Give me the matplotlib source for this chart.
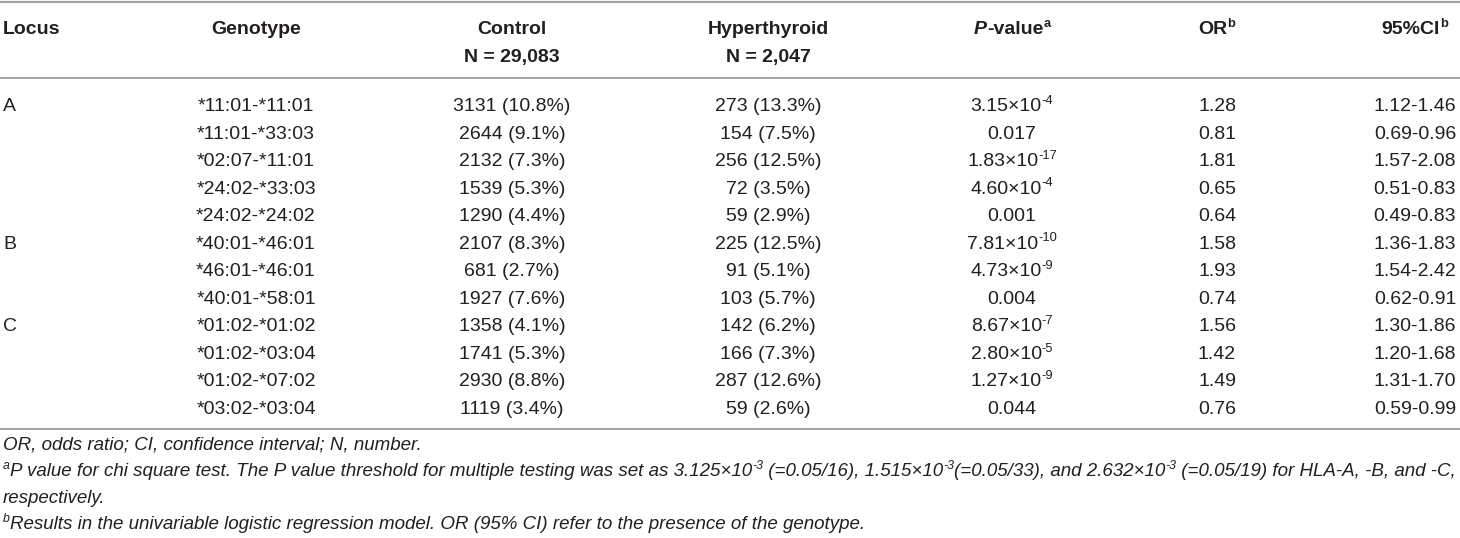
import matplotlib
matplotlib.use("Agg")
import matplotlib.pyplot as plt

# ---------------- data ----------------
loci = ["A", "", "", "", "", "B", "", "", "C", "", "", ""]
genotypes = ["*11:01-*11:01", "*11:01-*33:03", "*02:07-*11:01", "*24:02-*33:03",
             "*24:02-*24:02", "*40:01-*46:01", "*46:01-*46:01", "*40:01-*58:01",
             "*01:02-*01:02", "*01:02-*03:04", "*01:02-*07:02", "*03:02-*03:04"]
control_n = [3131, 2644, 2132, 1539, 1290, 2107, 681, 1927, 1358, 1741, 2930, 1119]
control_pct = [10.8, 9.1, 7.3, 5.3, 4.4, 8.3, 2.7, 7.6, 4.1, 5.3, 8.8, 3.4]
hyper_n = [273, 154, 256, 72, 59, 225, 91, 103, 142, 166, 287, 59]
hyper_pct = [13.3, 7.5, 12.5, 3.5, 2.9, 12.5, 5.1, 5.7, 6.2, 7.3, 12.6, 2.6]
p_mantissa = ["3.15", "0.017", "1.83", "4.60", "0.001", "7.81", "4.73", "0.004",
              "8.67", "2.80", "1.27", "0.044"]
p_exponent = ["-4", "", "-17", "-4", "", "-10", "-9", "", "-7", "-5", "-9", ""]
or_vals = ["1.28", "0.81", "1.81", "0.65", "0.64", "1.58", "1.93", "0.74",
           "1.56", "1.42", "1.49", "0.76"]
ci_vals = ["1.12-1.46", "0.69-0.96", "1.57-2.08", "0.51-0.83", "0.49-0.83", "1.36-1.83",
           "1.54-2.42", "0.62-0.91", "1.30-1.86", "1.20-1.68", "1.31-1.70", "0.59-0.99"]
control_total = "29,083"
hyper_total = "2,047"

# ---------------- layout ----------------
FONT = "Liberation Sans"
TXT = "#231f20"
LINE = "#a3a3a3"
W, H = 1460, 538
fig = plt.figure(figsize=(W / 100, H / 100), dpi=100)
ax = fig.add_axes([0, 0, 1, 1])
ax.set_xlim(0, W)
ax.set_ylim(H, 0)
ax.axis("off")
renderer = fig.canvas.get_renderer()

BODY = 14
FOOT = 13


def _props(opts, size):
    sup = opts.get("sup", False)
    return dict(fontsize=size * 0.66 if sup else size, fontfamily=FONT,
                fontweight=opts.get("weight", "normal"),
                fontstyle=opts.get("style", "normal"))


def _measure(s, opts, size):
    p = _props(opts, size)
    t1 = ax.text(0, 0, "x" + s + "x", **p)
    t2 = ax.text(0, 0, "xx", **p)
    w = t1.get_window_extent(renderer).width - t2.get_window_extent(renderer).width
    t1.remove()
    t2.remove()
    return w


def draw_runs(x, y, runs, ha="center", size=BODY, color=TXT):
    widths = [_measure(r[0], r[1] if len(r) > 1 else {}, size) for r in runs]
    total = sum(widths)
    if ha == "center":
        x0 = x - total / 2
    elif ha == "right":
        x0 = x - total
    else:
        x0 = x
    objs = []
    for r, w in zip(runs, widths):
        opts = r[1] if len(r) > 1 else {}
        dy = -size * (100 / 72) * 0.38 if opts.get("sup") else 0
        objs.append(ax.text(x0, y + dy, r[0], va="baseline", ha="left", color=color,
                            **_props(opts, size)))
        x0 += w
    return objs


# rules
ax.plot([0, W], [1.5, 1.5], color=LINE, lw=1.6, solid_capstyle="butt")
ax.plot([0, W], [78, 78], color=LINE, lw=1.4, solid_capstyle="butt")
ax.plot([0, W], [429, 429], color=LINE, lw=1.4, solid_capstyle="butt")

# column positions
X_LOCUS, X_GENO, X_CTRL, X_HYP, X_P, X_OR, X_CI = 3, 256, 512, 768, 1012, 1217, 1415
B = {"weight": "bold"}
HB1, HB2 = 34, 62

draw_runs(X_LOCUS, HB1, [("Locus", B)], ha="left")
draw_runs(X_GENO, HB1, [("Genotype", B)])
draw_runs(X_CTRL, HB1, [("Control", B)])
draw_runs(X_CTRL, HB2, [("N = " + control_total, B)])
draw_runs(X_HYP, HB1, [("Hyperthyroid", B)])
draw_runs(X_HYP, HB2, [("N = " + hyper_total, B)])
draw_runs(X_P, HB1, [("P", {"weight": "bold", "style": "italic"}), ("-value", B),
                     ("a", {"weight": "bold", "sup": True})])
draw_runs(X_OR, HB1, [("OR", B), ("b", {"weight": "bold", "sup": True})])
draw_runs(X_CI, HB1, [("95%CI", B), ("b", {"weight": "bold", "sup": True})])

ROW0, DROW = 111, 27.55
for i in range(len(genotypes)):
    y = ROW0 + i * DROW
    if loci[i]:
        draw_runs(X_LOCUS, y, [(loci[i], {})], ha="left")
    draw_runs(X_GENO, y, [(genotypes[i], {})])
    draw_runs(X_CTRL, y, [(f"{control_n[i]} ({control_pct[i]:.1f}%)", {})])
    draw_runs(X_HYP, y, [(f"{hyper_n[i]} ({hyper_pct[i]:.1f}%)", {})])
    if p_exponent[i]:
        draw_runs(X_P, y, [(p_mantissa[i] + "×10", {}), (p_exponent[i], {"sup": True})])
    else:
        draw_runs(X_P, y, [(p_mantissa[i], {})])
    draw_runs(X_OR, y, [(or_vals[i], {})])
    draw_runs(X_CI, y, [(ci_vals[i], {})])

# footnotes
IT = {"style": "italic"}
ITS = {"style": "italic", "sup": True}
fn2 = [("a", ITS),
       ("P value for chi square test. The P value threshold for multiple testing was set as 3.125×10", IT),
       ("-3", ITS), (" (=0.05/16), 1.515×10", IT), ("-3", ITS),
       ("(=0.05/33), and 2.632×10", IT), ("-3", ITS),
       (" (=0.05/19) for HLA-A, -B, and -C,", IT)]

# fit the long footnote line to the table width
fsize = FOOT
for _ in range(4):
    objs = draw_runs(3, 476, fn2, ha="left", size=fsize)
    right = max(t.get_window_extent(renderer).x1 for t in objs)
    if abs(right - 1456) < 2:
        break
    for t in objs:
        t.remove()
    fsize *= (1456 - 3) / (right - 3)

draw_runs(3, 450, [("OR, odds ratio; CI, confidence interval; N, number.", IT)], ha="left", size=fsize)
draw_runs(3, 503, [("respectively.", IT)], ha="left", size=fsize)
draw_runs(3, 529, [("b", ITS),
                   ("Results in the univariable logistic regression model. OR (95% CI) refer to the presence of the genotype.", IT)],
          ha="left", size=fsize)

fig.savefig("out.png", dpi=100)
